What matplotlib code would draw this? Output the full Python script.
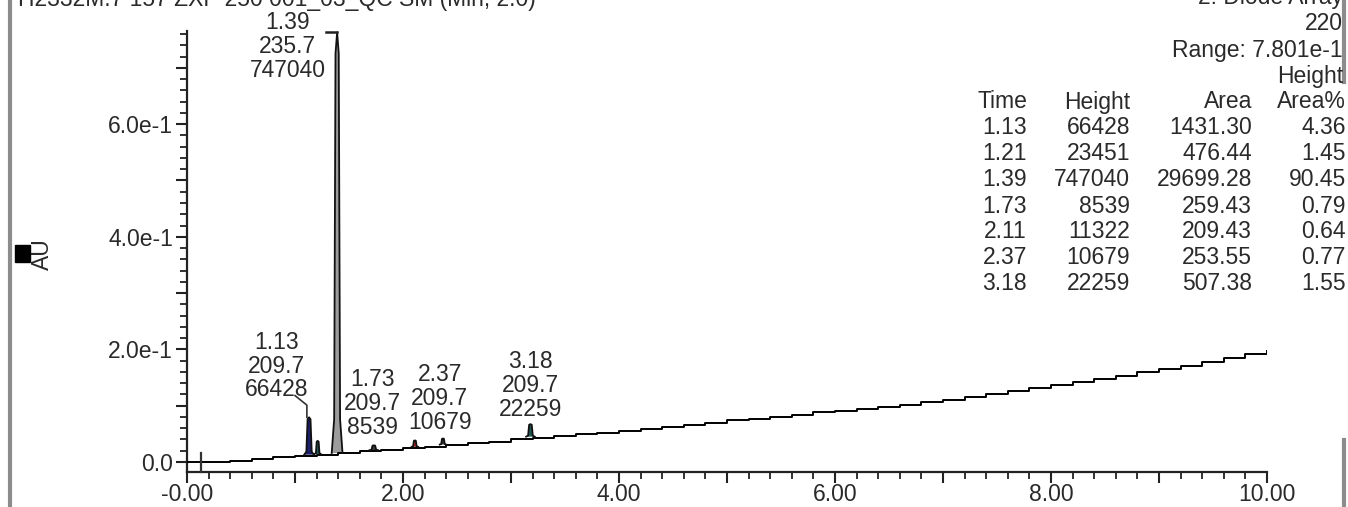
import matplotlib
matplotlib.use("Agg")
import matplotlib.pyplot as plt
from matplotlib.ticker import MultipleLocator, FuncFormatter

plt.rcParams['font.family'] = ['Liberation Sans', 'DejaVu Sans']

# ---------------- data ----------------
# stepped rising baseline of the chromatogram (time in min, AU)
base_time = [0.0, 0.2, 0.4, 0.6, 0.8, 1.0, 1.2, 1.4, 1.6, 1.8, 2.0,
             2.2, 2.4, 2.6, 2.8, 3.0, 3.2, 3.4, 3.6, 3.8, 4.0,
             4.2, 4.4, 4.6, 4.8, 5.0, 5.2, 5.4, 5.6, 5.8, 6.0,
             6.2, 6.4, 6.6, 6.8, 7.0, 7.2, 7.4, 7.6, 7.8, 8.0,
             8.2, 8.4, 8.6, 8.8, 9.0, 9.2, 9.4, 9.6, 9.8, 10.0]
base_au = [0.000, 0.000, 0.002, 0.005, 0.008, 0.011, 0.013, 0.016, 0.019, 0.022, 0.025,
           0.027, 0.030, 0.033, 0.036, 0.040, 0.043, 0.046, 0.049, 0.052, 0.055,
           0.058, 0.062, 0.066, 0.070, 0.074, 0.077, 0.080, 0.084, 0.088, 0.091,
           0.094, 0.098, 0.102, 0.106, 0.110, 0.115, 0.120, 0.126, 0.131, 0.137,
           0.142, 0.147, 0.153, 0.159, 0.165, 0.171, 0.178, 0.184, 0.191, 0.198]

# integrated peaks
peak_time = [1.13, 1.21, 1.39, 1.73, 2.11, 2.37, 3.18]
peak_base = [0.013, 0.014, 0.016, 0.021, 0.027, 0.031, 0.045]
peak_height = [0.066428, 0.023451, 0.747040, 0.008539, 0.011322, 0.010679, 0.022259]
peak_width = [0.045, 0.03, 0.05, 0.04, 0.03, 0.03, 0.04]
peak_fill = ['#1c1f6b', '#1f5a55', '#9c9c9c', '#3a3a3a', '#b02020', '#3a3a3a', '#1f5a55']

inject_time = 0.13

# peak annotations
label_time = ['1.13', '1.39', '1.73', '2.37', '3.18']
label_lambda = ['209.7', '235.7', '209.7', '209.7', '209.7']
label_height = ['66428', '747040', '8539', '10679', '22259']

# peak table
tbl_time = ['1.13', '1.21', '1.39', '1.73', '2.11', '2.37', '3.18']
tbl_height = ['66428', '23451', '747040', '8539', '11322', '10679', '22259']
tbl_area = ['1431.30', '476.44', '29699.28', '259.43', '209.43', '253.55', '507.38']
tbl_area_pct = ['4.36', '1.45', '90.45', '0.79', '0.64', '0.77', '1.55']

x_major_labels = ['-0.00', '2.00', '4.00', '6.00', '8.00', '10.00']
y_major_labels = {0: '0.0', 2: '2.0e-1', 4: '4.0e-1', 6: '6.0e-1'}

title_left = 'H2332M.7 157 ZXP 250 001_03_QC SM (Min, 2.0)'
title_right = ['2: Diode Array', '220', 'Range: 7.801e-1', 'Height']

# ---------------- layout ----------------
W, H = 1348, 507
fig = plt.figure(figsize=(W / 100, H / 100), dpi=100)
fig.patch.set_facecolor('white')


def fx(px):
    return px / W


def fy(py):
    return 1 - py / H


ax = fig.add_axes([fx(187), fy(472), fx(1267) - fx(187), fy(31) - fy(472)])
ax.set_xlim(0, 10)
ax.set_ylim(-10 / 563, 431 / 563)

TXT = '#2a2a2a'
FS = 16.5

# baseline trace
ax.plot(base_time, base_au, drawstyle='steps-post', color='black', lw=1.4,
        zorder=3)

# peaks
for t, b, h, w, c in zip(peak_time, peak_base, peak_height, peak_width, peak_fill):
    xs = [t - w, t - 0.55 * w, t - 0.3 * w, t, t + 0.3 * w, t + 0.55 * w, t + w]
    ys = [b, b + 0.08 * h, b + 0.95 * h, b + h, b + 0.95 * h, b + 0.08 * h, b]
    ax.fill(xs, ys, color=c, zorder=2, lw=0)
    ax.plot(xs, ys, color='#111111', lw=1.3, zorder=3)

# injection marker
ax.plot([inject_time, inject_time], [-0.017, 0.016], color='#333333', lw=1.6,
        clip_on=False, zorder=3)

# leader lines
main_top = peak_base[2] + peak_height[2]
ax.plot([1.29, peak_time[2]], [main_top, main_top], color='#222222', lw=1.8,
        clip_on=False, zorder=3)
p0_top = peak_base[0] + peak_height[0]
ax.plot([1.00, 1.11, 1.11], [0.118, 0.101, p0_top], color='#333333', lw=1.2,
        zorder=3)

# annotation text positions (time centre, line-1 y in AU)
ann_pos = [(0.83, 0.213), (0.93, 0.781), (1.72, 0.146), (2.34, 0.156), (3.18, 0.178)]
line_step = 0.0425
for (xc, y0), a, b, c in zip(ann_pos, label_time, label_lambda, label_height):
    for k, s in enumerate([a, b, c]):
        ax.text(xc, y0 - k * line_step, s, ha='center', va='center', fontsize=FS,
                color=TXT, clip_on=False, zorder=4)

# spines / ticks
for s in ['top', 'right']:
    ax.spines[s].set_visible(False)
for s in ['left', 'bottom']:
    ax.spines[s].set_color('#222222')
    ax.spines[s].set_linewidth(1.6)

ax.xaxis.set_major_locator(MultipleLocator(1.0))
ax.xaxis.set_minor_locator(MultipleLocator(0.2))
ax.xaxis.set_major_formatter(FuncFormatter(
    lambda v, p: x_major_labels[int(round(v)) // 2] if int(round(v)) % 2 == 0 else ''))
ax.yaxis.set_major_locator(MultipleLocator(0.1))
ax.yaxis.set_minor_locator(MultipleLocator(0.02))
ax.yaxis.set_major_formatter(FuncFormatter(
    lambda v, p: y_major_labels.get(int(round(v * 10)), '')))

ax.tick_params(axis='both', which='major', direction='out', length=8, width=1.5,
               color='#222222', labelsize=FS, labelcolor=TXT, pad=2)
ax.tick_params(axis='both', which='minor', direction='out', length=5, width=1.3,
               color='#222222')
ax.tick_params(axis='x', which='major', pad=0)

# y-axis label with marker square
fig.text(fx(42), fy(254), 'AU', rotation=90, ha='center', va='center',
         fontsize=FS, color=TXT)
fig.patches.append(plt.Rectangle((fx(15), fy(262)), fx(15), 17 / H,
                                 transform=fig.transFigure, color='black'))

# page borders
fig.add_artist(plt.Line2D([fx(10), fx(10)], [0, 1], transform=fig.transFigure,
                          color='#8c8c8c', lw=3))
fig.add_artist(plt.Line2D([fx(1344), fx(1344)], [fy(0), fy(82)],
                          transform=fig.transFigure, color='#8c8c8c', lw=3))
fig.add_artist(plt.Line2D([fx(1344), fx(1344)], [fy(440), fy(507)],
                          transform=fig.transFigure, color='#8c8c8c', lw=3))

# header (cut at top of the page)
fig.text(fx(18), fy(6), title_left, ha='left', va='baseline', fontsize=FS,
         color=TXT)
fig.text(fx(1343), fy(4), title_right[0], ha='right', va='baseline',
         fontsize=FS, color=TXT)
for s, y in zip(title_right[1:], [23, 50, 77]):
    fig.text(fx(1343), fy(y), s, ha='right', va='center', fontsize=FS, color=TXT)

# peak table
col_right = [1027, 1130, 1252, 1346]
for s, xr in zip(['Time', 'Height', 'Area', 'Area%'], col_right):
    fig.text(fx(xr), fy(102), s, ha='right', va='center', fontsize=FS, color=TXT)
for i in range(len(tbl_time)):
    y = 128 + 26 * i
    for s, xr in zip([tbl_time[i], tbl_height[i], tbl_area[i], tbl_area_pct[i]],
                     col_right):
        fig.text(fx(xr), fy(y), s, ha='right', va='center', fontsize=FS,
                 color=TXT)

fig.savefig('out.png', dpi=100, facecolor='white')
